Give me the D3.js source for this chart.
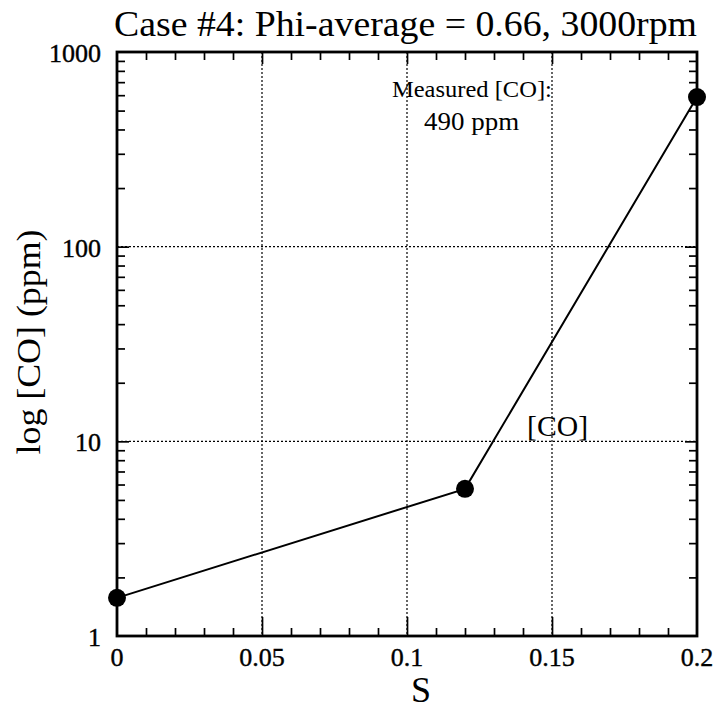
<!DOCTYPE html>
<html>
<head>
<meta charset="utf-8">
<script src="https://cdn.jsdelivr.net/npm/d3@7"></script>
<style>
  html, body { margin: 0; padding: 0; background: #fff; }
  svg { display: block; }
  text { font-family: "Liberation Serif", "Times New Roman", serif; fill: #000; }
</style>
</head>
<body>
<div id="chart"></div>
<script>
// Swirl number S vs. CO concentration (log scale)
const sValues = [0, 0.12, 0.2];
const coValues = [1.57, 5.7, 587];
const xTickValues = [0, 0.05, 0.1, 0.15, 0.2];
const xTickLabels = ["0", "0.05", "0.1", "0.15", "0.2"];
const yTickValues = [1, 10, 100, 1000];
const yTickLabels = ["1", "10", "100", "1000"];
const titleText = "Case #4: Phi-average = 0.66, 3000rpm";
const xLabel = "S";
const yLabel = "log [CO] (ppm)";
const seriesLabel = "[CO]";
const noteLines = ["Measured [CO]:", "490 ppm"];

const W = 720, H = 712;
const margin = { left: 117, right: 23, top: 52, bottom: 76 };
const iw = W - margin.left - margin.right;
const ih = H - margin.top - margin.bottom;

const svg = d3.select("#chart").append("svg")
  .attr("width", W).attr("height", H);

const g = svg.append("g").attr("transform", `translate(${margin.left},${margin.top})`);

const x = d3.scaleLinear().domain([0, 0.2]).range([0, iw]);
const y = d3.scaleLog().domain([1, 1000]).range([ih, 0]);

// dotted grid at interior major ticks
g.append("g").selectAll("line")
  .data(xTickValues.slice(1, -1)).join("line")
  .attr("x1", d => x(d)).attr("x2", d => x(d))
  .attr("y1", 0).attr("y2", ih)
  .attr("stroke", "#000").attr("stroke-width", 1.2)
  .attr("stroke-dasharray", "2,2");
g.append("g").selectAll("line")
  .data(yTickValues.slice(1, -1)).join("line")
  .attr("y1", d => y(d)).attr("y2", d => y(d))
  .attr("x1", 0).attr("x2", iw)
  .attr("stroke", "#000").attr("stroke-width", 1.2)
  .attr("stroke-dasharray", "2,2");

// inward ticks on all four sides
const xMinor = d3.range(1, 20).filter(k => k % 5 !== 0).map(k => k / 100);
const yMinor = [];
[1, 10, 100].forEach(dec => { for (let k = 2; k <= 9; k++) yMinor.push(dec * k); });

function tickAxis(axisFn, scale, values, size, transform) {
  const a = g.append("g").attr("transform", transform)
    .call(axisFn(scale).tickValues(values).tickSize(size).tickFormat(""));
  a.select(".domain").remove();
  a.selectAll(".tick line").attr("stroke", "#000").attr("stroke-width", 1.7);
  return a;
}
tickAxis(d3.axisTop, x, xMinor, 8, `translate(0,${ih})`);
tickAxis(d3.axisTop, x, xTickValues.slice(1, -1), 19, `translate(0,${ih})`);
tickAxis(d3.axisBottom, x, xMinor, 8, `translate(0,0)`);
tickAxis(d3.axisBottom, x, xTickValues.slice(1, -1), 12, `translate(0,0)`);
tickAxis(d3.axisRight, y, yMinor, 8, `translate(0,0)`);
tickAxis(d3.axisRight, y, yTickValues.slice(1, -1), 12, `translate(0,0)`);
tickAxis(d3.axisLeft, y, yMinor, 8, `translate(${iw},0)`);
tickAxis(d3.axisLeft, y, yTickValues.slice(1, -1), 12, `translate(${iw},0)`);

// frame
g.append("rect").attr("x", 0).attr("y", 0).attr("width", iw).attr("height", ih)
  .attr("fill", "none").attr("stroke", "#000").attr("stroke-width", 2.8);

// tick labels
g.append("g").selectAll("text")
  .data(xTickValues).join("text")
  .attr("x", d => x(d)).attr("y", ih + 30)
  .attr("text-anchor", "middle")
  .attr("stroke", "#000").attr("stroke-width", 0.4)
  .style("font-size", "26px")
  .text((d, i) => xTickLabels[i]);
g.append("g").selectAll("text")
  .data(yTickValues).join("text")
  .attr("x", -16).attr("y", d => y(d) + 10)
  .attr("text-anchor", "end")
  .attr("stroke", "#000").attr("stroke-width", 0.4)
  .style("font-size", "26px")
  .text((d, i) => yTickLabels[i]);

// series
const pts = sValues.map((s, i) => [s, coValues[i]]);
g.append("path").datum(pts)
  .attr("d", d3.line().x(d => x(d[0])).y(d => y(d[1])))
  .attr("fill", "none").attr("stroke", "#000").attr("stroke-width", 2);
g.append("g").selectAll("circle")
  .data(pts).join("circle")
  .attr("cx", d => x(d[0])).attr("cy", d => y(d[1]))
  .attr("r", 9).attr("fill", "#000");

// series label
g.append("text")
  .attr("x", x(0.1414)).attr("y", y(10) - 5)
  .attr("textLength", 61).attr("lengthAdjust", "spacingAndGlyphs")
  .style("font-size", "29px")
  .text(seriesLabel);

// annotation
g.append("text")
  .attr("x", x(0.0948)).attr("y", 45)
  .attr("textLength", 160).attr("lengthAdjust", "spacingAndGlyphs")
  .style("font-size", "23px")
  .text(noteLines[0]);
g.append("text")
  .attr("x", x(0.1059)).attr("y", 78)
  .attr("textLength", 95).attr("lengthAdjust", "spacingAndGlyphs")
  .style("font-size", "25px")
  .text(noteLines[1]);

// title and axis labels
svg.append("text")
  .attr("x", 114).attr("y", 36)
  .attr("textLength", 583).attr("lengthAdjust", "spacingAndGlyphs")
  .style("font-size", "35px")
  .text(titleText);
svg.append("text")
  .attr("x", 421).attr("y", 702)
  .attr("text-anchor", "middle")
  .style("font-size", "36px")
  .text(xLabel);
svg.append("text")
  .attr("transform", "translate(40,342) rotate(-90)")
  .attr("text-anchor", "middle")
  .attr("textLength", 225).attr("lengthAdjust", "spacingAndGlyphs")
  .style("font-size", "34px")
  .text(yLabel);
</script>
</body>
</html>
